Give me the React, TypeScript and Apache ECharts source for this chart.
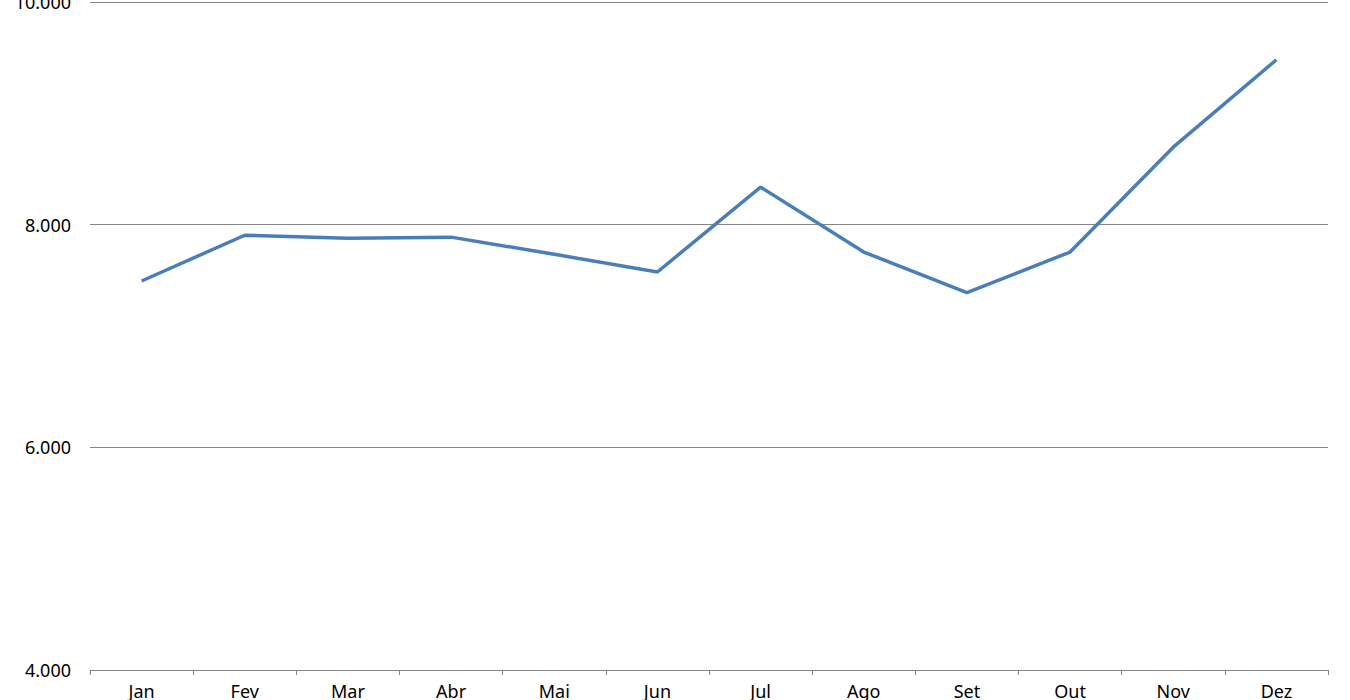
import React, { useEffect, useRef } from "react";
import * as echarts from "echarts";

const months = ["Jan", "Fev", "Mar", "Abr", "Mai", "Jun", "Jul", "Ago", "Set", "Out", "Nov", "Dez"];
const values = [7494, 7905, 7877, 7888, 7734, 7575, 8337, 7754, 7390, 7754, 8696, 9481];
const yMin = 4000;
const yMax = 10000;
const yStep = 2000;

const fmt = (v: number) => {
  const s = Math.round(v).toString();
  return s.replace(/\B(?=(\d{3})+(?!\d))/g, ".");
};

export default function App() {
  const ref = useRef<HTMLDivElement>(null);
  useEffect(() => {
    if (!ref.current) return;
    const chart = echarts.init(ref.current, null, { renderer: "svg" });
    const font = "'Noto Sans', 'Open Sans', sans-serif";
    chart.setOption({
      animation: false,
      backgroundColor: "#ffffff",
      grid: { left: 90, right: 22, top: 2, bottom: 30, containLabel: false, outerBoundsMode: "none" },
      xAxis: {
        type: "category",
        data: months,
        boundaryGap: true,
        axisLine: { show: true, lineStyle: { color: "#868686", width: 1 } },
        axisTick: { show: true, length: 5, lineStyle: { color: "#868686" } },
        axisLabel: { color: "#000", fontSize: 18, fontFamily: font, margin: 12, interval: 0 },
        splitLine: { show: false },
      },
      yAxis: {
        type: "value",
        min: yMin,
        max: yMax,
        interval: yStep,
        axisLine: { show: false },
        axisTick: { show: false },
        axisLabel: { color: "#000", fontSize: 18, fontFamily: font, margin: 19, formatter: (v: number) => fmt(v) },
        splitLine: { show: true, lineStyle: { color: "#868686", width: 1 } },
      },
      series: [
        {
          type: "line",
          data: values,
          symbol: "none",
          lineStyle: { color: "#4a7ebb", width: 3.5 },
          itemStyle: { color: "#4a7ebb" },
        },
      ],
    });
    return () => chart.dispose();
  }, []);
  return (
    <div
      ref={ref}
      style={{ position: "fixed", left: 0, top: 0, width: 1350, height: 700, background: "#fff" }}
    />
  );
}
